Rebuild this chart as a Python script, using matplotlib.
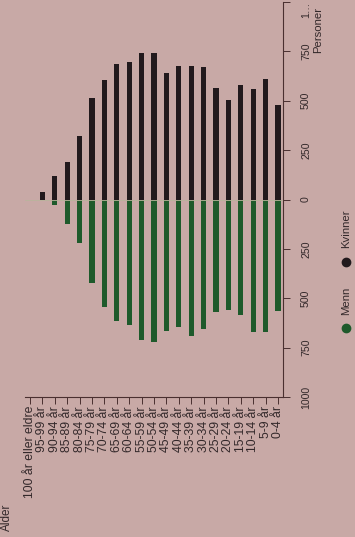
import matplotlib
matplotlib.use("Agg")
import matplotlib.pyplot as plt
from matplotlib.lines import Line2D
import numpy as np

plt.rcParams['font.family'] = ['Liberation Sans', 'DejaVu Sans']

# ---- data ----
categories = ["100 år eller eldre", "95-99 år", "90-94 år", "85-89 år", "80-84 år",
              "75-79 år", "70-74 år", "65-69 år", "60-64 år", "55-59 år", "50-54 år",
              "45-49 år", "40-44 år", "35-39 år", "30-34 år", "25-29 år", "20-24 år",
              "15-19 år", "10-14 år", "5-9 år", "0-4 år"]
menn = [0, 0, 30, 125, 222, 425, 542, 617, 633, 713, 722,
        667, 647, 692, 658, 570, 558, 587, 670, 670, 563]
kvinner = [0, 40, 117, 192, 320, 512, 605, 687, 698, 742, 742,
           642, 675, 675, 670, 567, 505, 580, 558, 608, 478]
value_ticks = [-1000, -750, -500, -250, 0, 250, 500, 750, 1000]
value_tick_labels = ["1000", "750", "500", "250", "0", "250", "500", "750", "1…"]
series_names = ["Menn", "Kvinner"]
axis_title = "Personer"
cat_title = "Alder"

# ---- style ----
W, H = 355, 537
bg = "#c8a9a6"
green = "#1e5a2b"
black = "#221a1d"
spine = "#4a3030"
txt = "#33282a"

fig = plt.figure(figsize=(W / 100, H / 100), dpi=100, facecolor=bg)

def fx(px):
    return px / W

def fy(py):
    return 1 - py / H

ax = fig.add_axes([fx(25), fy(397), fx(283) - fx(25), fy(2) - fy(397)])
ax.set_facecolor(bg)

x = np.arange(len(categories))
ax.bar(x, -np.array(menn), width=0.42, color=green, zorder=2)
ax.bar(x, np.array(kvinner), width=0.42, color=black, zorder=2)
ax.axhline(0, color="#b9b49c", lw=0.6, zorder=3)

ax.set_xlim(-0.4, len(categories) - 0.6)
ax.set_ylim(-1000, 1000)

for s in ["top", "left"]:
    ax.spines[s].set_visible(False)
for s in ["bottom", "right"]:
    ax.spines[s].set_color(spine)
    ax.spines[s].set_linewidth(0.8)

ax.set_xticks(x)
ax.set_xticklabels(categories, rotation=90, fontsize=8.8, color=txt)
ax.tick_params(axis="x", direction="out", length=5, width=0.7, color=spine, pad=1.5)

ax.yaxis.tick_right()
ax.set_yticks(value_ticks)
ax.set_yticklabels(value_tick_labels, rotation=90, fontsize=7.6, color=txt, va="center")
ax.tick_params(axis="y", direction="out", length=5, width=0.7, color=spine, pad=8)
ax.get_yticklabels()[-1].set_va("top")

fig.text(fx(318), fy(30), axis_title, rotation=90, ha="center", va="center",
         fontsize=8.2, color=txt)
fig.text(fx(7), fy(517), cat_title, rotation=90, ha="center", va="center",
         fontsize=8.5, color=txt)

# legend (rotated)
fig.add_artist(Line2D([fx(346)], [fy(328)], marker="o", markersize=6, color=green,
                      linestyle="none", transform=fig.transFigure))
fig.text(fx(346), fy(301), series_names[0], rotation=90, ha="center", va="center",
         fontsize=8.2, color=txt)
fig.add_artist(Line2D([fx(346)], [fy(262)], marker="o", markersize=6, color=black,
                      linestyle="none", transform=fig.transFigure))
fig.text(fx(346), fy(229), series_names[1], rotation=90, ha="center", va="center",
         fontsize=8.2, color=txt)

fig.savefig("out.png", dpi=100, facecolor=bg)
